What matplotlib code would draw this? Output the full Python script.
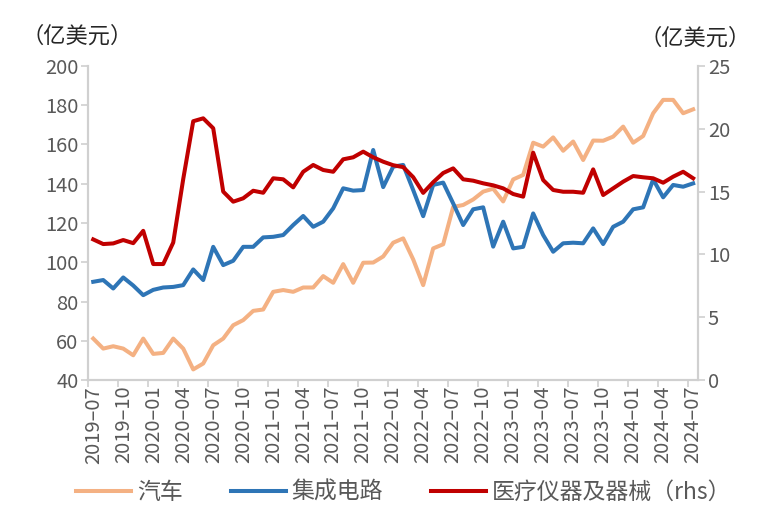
import numpy as np
import pandas as pd
import matplotlib
matplotlib.use("Agg")
import matplotlib.pyplot as plt

plt.rcParams["font.family"] = ["Noto Sans CJK SC", "DejaVu Sans"]

# 2019-07 ~ 2024-07 月度
months = [p.strftime("%Y–%m") for p in pd.period_range("2019-07", "2024-07", freq="M")]

# 汽车 (亿美元, 左轴)
auto = [61.2, 56.1, 57.3, 56.1, 52.7, 61.2, 53.4, 53.9, 61.2, 56.1,
        45.5, 48.5, 57.8, 61.2, 68.0, 70.6, 75.3, 76.0, 85.0, 85.9,
        85.0, 87.2, 87.2, 93.0, 89.6, 99.1, 89.6, 99.8, 99.9, 103.0,
        110.0, 112.2, 101.5, 88.4, 107.1, 109.2, 128.2, 129.2, 132.0, 136.0,
        137.5, 131.0, 142.2, 144.5, 160.9, 158.9, 163.6, 156.8, 161.5, 152.1,
        162.0, 161.9, 164.0, 169.1, 160.9, 164.3, 175.9, 182.7, 182.7, 175.9,
        177.9]
# 集成电路 (亿美元, 左轴)
ic = [90.1, 91.0, 86.7, 92.3, 88.2, 83.3, 86.0, 87.2, 87.5, 88.4,
      96.4, 91.0, 107.9, 98.6, 100.8, 107.9, 107.9, 112.7, 113.0, 113.9,
      119.0, 123.6, 118.1, 120.7, 127.5, 137.7, 136.5, 136.8, 157.2, 138.3,
      148.7, 149.6, 136.8, 123.5, 139.4, 140.6, 130.0, 119.0, 127.0, 128.0,
      108.0, 120.7, 107.1, 107.9, 124.9, 113.9, 105.4, 109.7, 110.0, 109.7,
      117.3, 109.3, 118.1, 120.7, 127.0, 128.0, 142.2, 133.1, 139.4, 138.5,
      140.2]
# 医疗仪器及器械 (亿美元, 右轴)
med = [11.2, 10.83, 10.88, 11.15, 10.9, 11.88, 9.24, 9.24, 10.95, 16.0,
       20.6, 20.83, 20.04, 15.0, 14.2, 14.47, 15.07, 14.91, 16.06, 15.98,
       15.34, 16.58, 17.12, 16.72, 16.58, 17.57, 17.73, 18.18, 17.73, 17.38,
       17.1, 16.95, 16.15, 14.9, 15.75, 16.48, 16.85, 15.98, 15.87, 15.66,
       15.5, 15.26, 14.81, 14.6, 18.1, 15.92, 15.13, 14.99, 14.99, 14.91,
       16.77, 14.73, 15.26, 15.79, 16.24, 16.14, 16.06, 15.71, 16.19, 16.58,
       16.06]

c_auto = "#F4B183"
c_ic = "#2E75B6"
c_med = "#C00000"
grey = "#595959"
axis_c = "#D0D0D0"
fs = 14.5

x = np.arange(len(months))

fig = plt.figure(figsize=(7.74, 5.23), dpi=100)
ax = fig.add_axes([0.114, 0.273, 0.788, 0.601])
ax2 = ax.twinx()

l1, = ax.plot(x, auto, color=c_auto, lw=2.9, solid_joinstyle="round", label="汽车")
l2, = ax.plot(x, ic, color=c_ic, lw=2.9, solid_joinstyle="round", label="集成电路")
l3, = ax2.plot(x, med, color=c_med, lw=2.9, solid_joinstyle="round", label="医疗仪器及器械（rhs）")

ax.set_xlim(-0.5, 60.5)
ax.set_ylim(40, 200)
ax2.set_ylim(0, 25)
ax.set_yticks(range(40, 201, 20))
ax2.set_yticks(range(0, 26, 5))

ax.set_xticks(x[::3])
ax.set_xticklabels(months[::3], rotation=90)
ax.set_xticks(np.arange(-0.5, 60, 3), minor=True)
ax.tick_params(axis="x", which="major", length=0, pad=4, labelsize=fs, labelcolor=grey)
ax.tick_params(axis="x", which="minor", length=5, width=1.2, color=axis_c)
ax.tick_params(axis="y", length=5, width=1.2, color=axis_c, labelsize=fs, labelcolor=grey, pad=2)
ax2.tick_params(axis="y", length=5, width=1.2, color=axis_c, labelsize=fs, labelcolor=grey, pad=2)

for a in (ax, ax2):
    a.spines["top"].set_visible(False)
    for s in ("left", "right", "bottom"):
        a.spines[s].set_color(axis_c)
        a.spines[s].set_linewidth(1.5)

fig.text(0.028, 0.931, "（亿美元）", fontsize=16, color="#262626", va="center")
fig.text(0.826, 0.927, "（亿美元）", fontsize=16, color="#262626", va="center")

fig.legend(handles=[l1, l2, l3], loc="center", bbox_to_anchor=(0.522, 0.058), ncol=3,
           frameon=False, fontsize=16.5, labelcolor=grey, handlelength=2.4,
           handletextpad=0.25, columnspacing=2.1)

fig.savefig("out.png", dpi=100)
